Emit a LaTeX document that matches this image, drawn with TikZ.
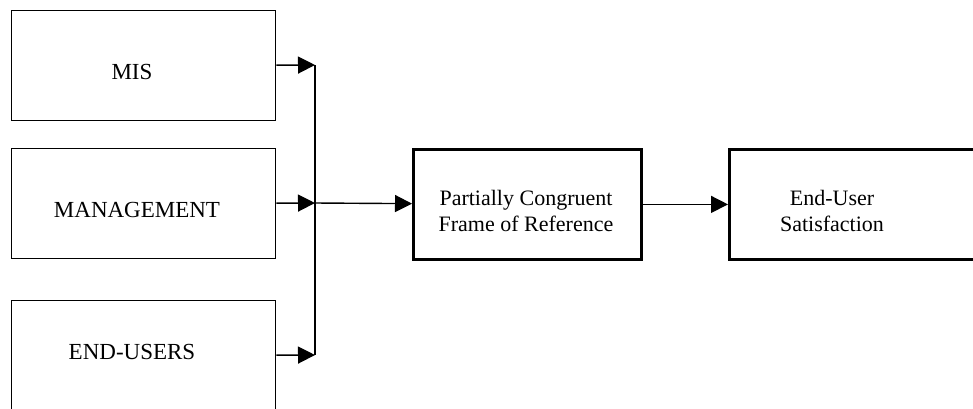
\documentclass[tikz,border=0pt]{standalone}
\usepackage{fontspec}
\setmainfont{Liberation Serif}
\usetikzlibrary{arrows.meta}
\begin{document}
\begin{tikzpicture}[x=1pt,y=-1pt,
  inbox/.style={draw, line width=1.4pt, minimum width=264pt, minimum height=110pt, inner sep=0pt, anchor=north west},
  thickbox/.style={draw, line width=2.8pt, minimum height=110pt, inner sep=0pt, anchor=north west},
  txt/.style={font=\fontsize{23}{24}\selectfont, align=center, inner sep=0pt},
  txtb/.style={font=\fontsize{22}{26}\selectfont, align=center, inner sep=0pt},
  arr/.style={line width=1.4pt, -{Triangle[length=17pt,width=17pt]}},
  ln/.style={line width=1.4pt}]
\clip (0,0) rectangle (973,408);
\fill[white] (0,0) rectangle (973,408);
% left boxes
\node[inbox] (mis) at (11,10) {};
\node[txt] (mist) at (132,72) {MIS};
\node[inbox] (mgmt) at (11,148) {};
\node[txt] (mgmtt) at (137,210) {MANAGEMENT};
\node[inbox] (eu) at (11,300) {};
\node[txt] (eut) at (132,352) {END-USERS};
% right boxes
\node[thickbox, minimum width=228pt] (pcf) at (412,148) {};
\node[txtb] (pcft) at (526,211) {Partially Congruent\\Frame of Reference};
\node[thickbox, minimum width=300pt] (eus) at (728,148) {};
\node[txtb] (eust) at (832,211) {End-User\\Satisfaction};
% connectors
\coordinate (j1) at (315,65);
\coordinate (j2) at (315,203);
\coordinate (j3) at (315,355);
\draw[arr] (mis) -- (j1);
\draw[arr] (mgmt) -- (j2);
\draw[arr] (eu) -- (j3);
\draw[ln] (j1) -- (j3);
\draw[arr] (j2) -- (pcf);
\draw[arr] (pcf) -- (eus);
\end{tikzpicture}
\end{document}
